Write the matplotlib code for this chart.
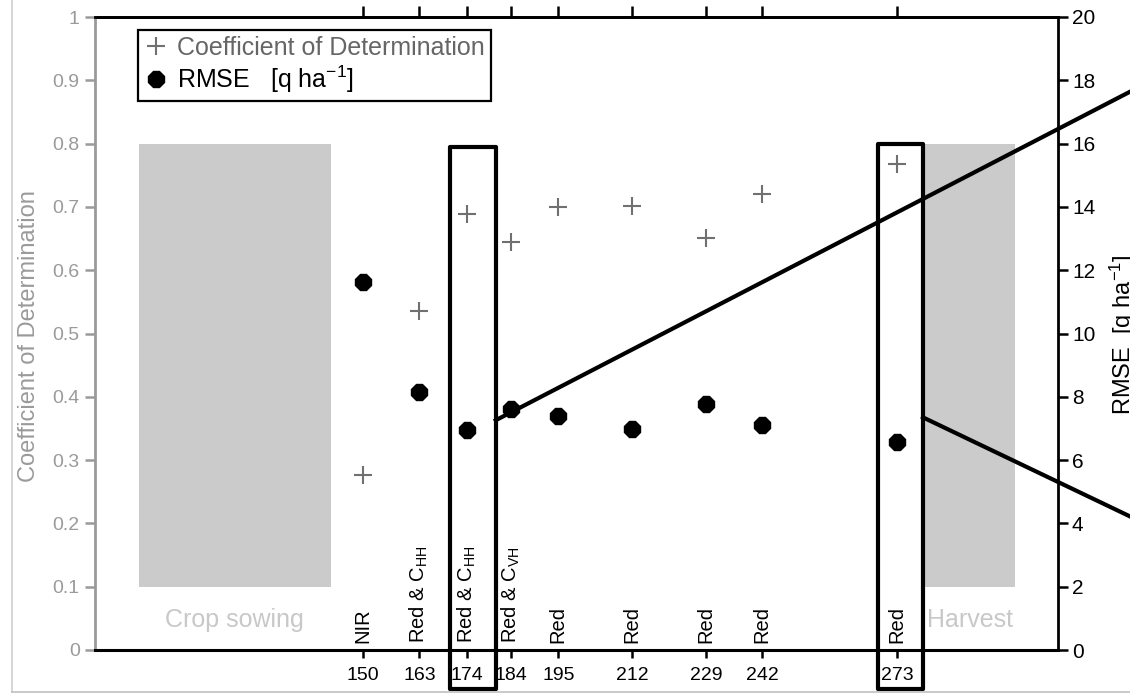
import matplotlib
matplotlib.use('Agg')
import matplotlib.pyplot as plt
from matplotlib.patches import Rectangle
from matplotlib.lines import Line2D
from matplotlib.ticker import FuncFormatter

plt.rcParams['font.family'] = ['Liberation Sans', 'DejaVu Sans']
plt.rcParams['mathtext.fontset'] = 'custom'
plt.rcParams['mathtext.rm'] = 'Liberation Sans'
plt.rcParams['mathtext.it'] = 'Liberation Sans:italic'
plt.rcParams['mathtext.bf'] = 'Liberation Sans:bold'

# ---- data ----
days = [150, 163, 174, 184, 195, 212, 229, 242, 273]
band_labels = ["NIR", r"Red & C$_{\mathrm{HH}}$", r"Red & C$_{\mathrm{HH}}$",
               r"Red & C$_{\mathrm{VH}}$", "Red", "Red", "Red", "Red", "Red"]
cod = [0.276, 0.535, 0.689, 0.645, 0.700, 0.701, 0.651, 0.721, 0.768]
rmse = [11.62, 8.14, 6.96, 7.63, 7.38, 6.98, 7.76, 7.12, 6.58]
left_ticks = [0, 0.1, 0.2, 0.3, 0.4, 0.5, 0.6, 0.7, 0.8, 0.9, 1]
right_ticks = [0, 2, 4, 6, 8, 10, 12, 14, 16, 18, 20]
phase_boxes = [("Crop sowing", 98.4, 142.6), ("Harvest", 279.5, 300.2)]
highlight_boxes = [(170.0, 180.6, 0.795), (268.6, 279.0, 0.80)]

W, H = 1130, 693
fig = plt.figure(figsize=(W / 100, H / 100), dpi=100)
fig.patch.set_facecolor('white')
ax = fig.add_axes([95 / W, 1 - 650 / H, (1058 - 95) / W, (650 - 17) / H])
ax2 = ax.twinx()

GREY_AX = '#9a9a9a'
BOX = '#cbcbcb'

ax.set_xlim(88.3, 310.1)
ax.set_ylim(0, 1)
ax2.set_ylim(0, 20)

# phase boxes
for name, x0, x1 in phase_boxes:
    ax.add_patch(Rectangle((x0, 0.1), x1 - x0, 0.7, facecolor=BOX,
                           edgecolor='none', zorder=0))
    ax.text((x0 + x1) / 2, 0.048, name, ha='center', va='center',
            fontsize=18, color='#c8c8c8', zorder=1)

# markers
ax.plot(days, cod, ls='none', marker='+', color='#707070', ms=13, mew=1.5,
        zorder=3)
ax2.plot(days, rmse, ls='none', marker='8', color='black', ms=13, zorder=3)

# band labels
for d, lab in zip(days, band_labels):
    ax.text(d, 0.011, lab, rotation=90, ha='center', va='bottom',
            fontsize=14.5, color='black', zorder=4)

# highlight rectangles
for x0, x1, top in highlight_boxes:
    ax.add_patch(Rectangle((x0, -0.062), x1 - x0, top + 0.062, fill=False,
                           edgecolor='black', lw=3, clip_on=False, zorder=5,
                           joinstyle='round'))

# connector lines (annotation)
ax.add_line(Line2D([180.6, 326.7], [0.363, 0.882], color='black', lw=3,
                   clip_on=False, zorder=5))
ax.add_line(Line2D([279.0, 326.7], [0.3675, 0.211], color='black', lw=3,
                   clip_on=False, zorder=5))

# axes styling
ax.set_xticks(days)
ax.set_xticklabels([str(d) for d in days])
ax.tick_params(axis='x', direction='out', length=6, width=1.8, colors='black',
               labelsize=14, pad=6)
ax.set_yticks(left_ticks)
ax.yaxis.set_major_formatter(FuncFormatter(lambda v, p: '%g' % v))
ax.tick_params(axis='y', direction='out', length=7, width=1.8,
               colors=GREY_AX, labelsize=14, labelcolor=GREY_AX, pad=4)
ax2.set_yticks(right_ticks)
ax2.tick_params(axis='y', direction='out', length=7, width=1.8,
                colors='black', labelsize=15, pad=3)

sec = ax.secondary_xaxis('top')
sec.set_xticks(days)
sec.tick_params(axis='x', direction='out', length=8, width=1.8,
                labeltop=False)
sec.spines['top'].set_linewidth(2)

ax.spines['left'].set_color(GREY_AX)
ax.spines['left'].set_linewidth(2)
ax.spines['bottom'].set_linewidth(2.2)
ax.spines['top'].set_linewidth(2)
ax.spines['right'].set_visible(False)
for s in ['left', 'top', 'bottom']:
    ax2.spines[s].set_visible(False)
ax2.spines['right'].set_linewidth(2)

fig.text(29 / W, 1 - 336 / H, 'Coefficient of Determination', rotation=90,
         ha='center', va='center', fontsize=17, color=GREY_AX)
fig.text(1123 / W, 1 - 335 / H, r'RMSE  [q ha$^{-1}$]', rotation=90,
         ha='center', va='center', fontsize=17, color='black')

# legend
h1 = Line2D([], [], ls='none', marker='+', color='#707070', ms=13, mew=1.5)
h2 = Line2D([], [], ls='none', marker='8', color='black', ms=13)
leg = ax2.legend([h1, h2], ['Coefficient of Determination',
                            r'RMSE   [q ha$^{-1}$]'],
                 loc='upper left', bbox_to_anchor=(0.0447, 0.9795),
                 borderaxespad=0, fontsize=18, handlelength=0.9,
                 handletextpad=0.4, borderpad=0.25, labelspacing=0.12,
                 fancybox=False, framealpha=1, edgecolor='black')
leg.get_frame().set_linewidth(1.6)
leg.get_texts()[0].set_color('#666666')

# screenshot frame
fig.add_artist(Line2D([12 / W, 12 / W], [0, 1], color='#d0d0d0', lw=1.2,
                      transform=fig.transFigure))
fig.add_artist(Line2D([12 / W, 1], [1.5 / H, 1.5 / H], color='#c0c0c0',
                      lw=1.2, transform=fig.transFigure))

fig.savefig('out.png', dpi=100, facecolor='white')
